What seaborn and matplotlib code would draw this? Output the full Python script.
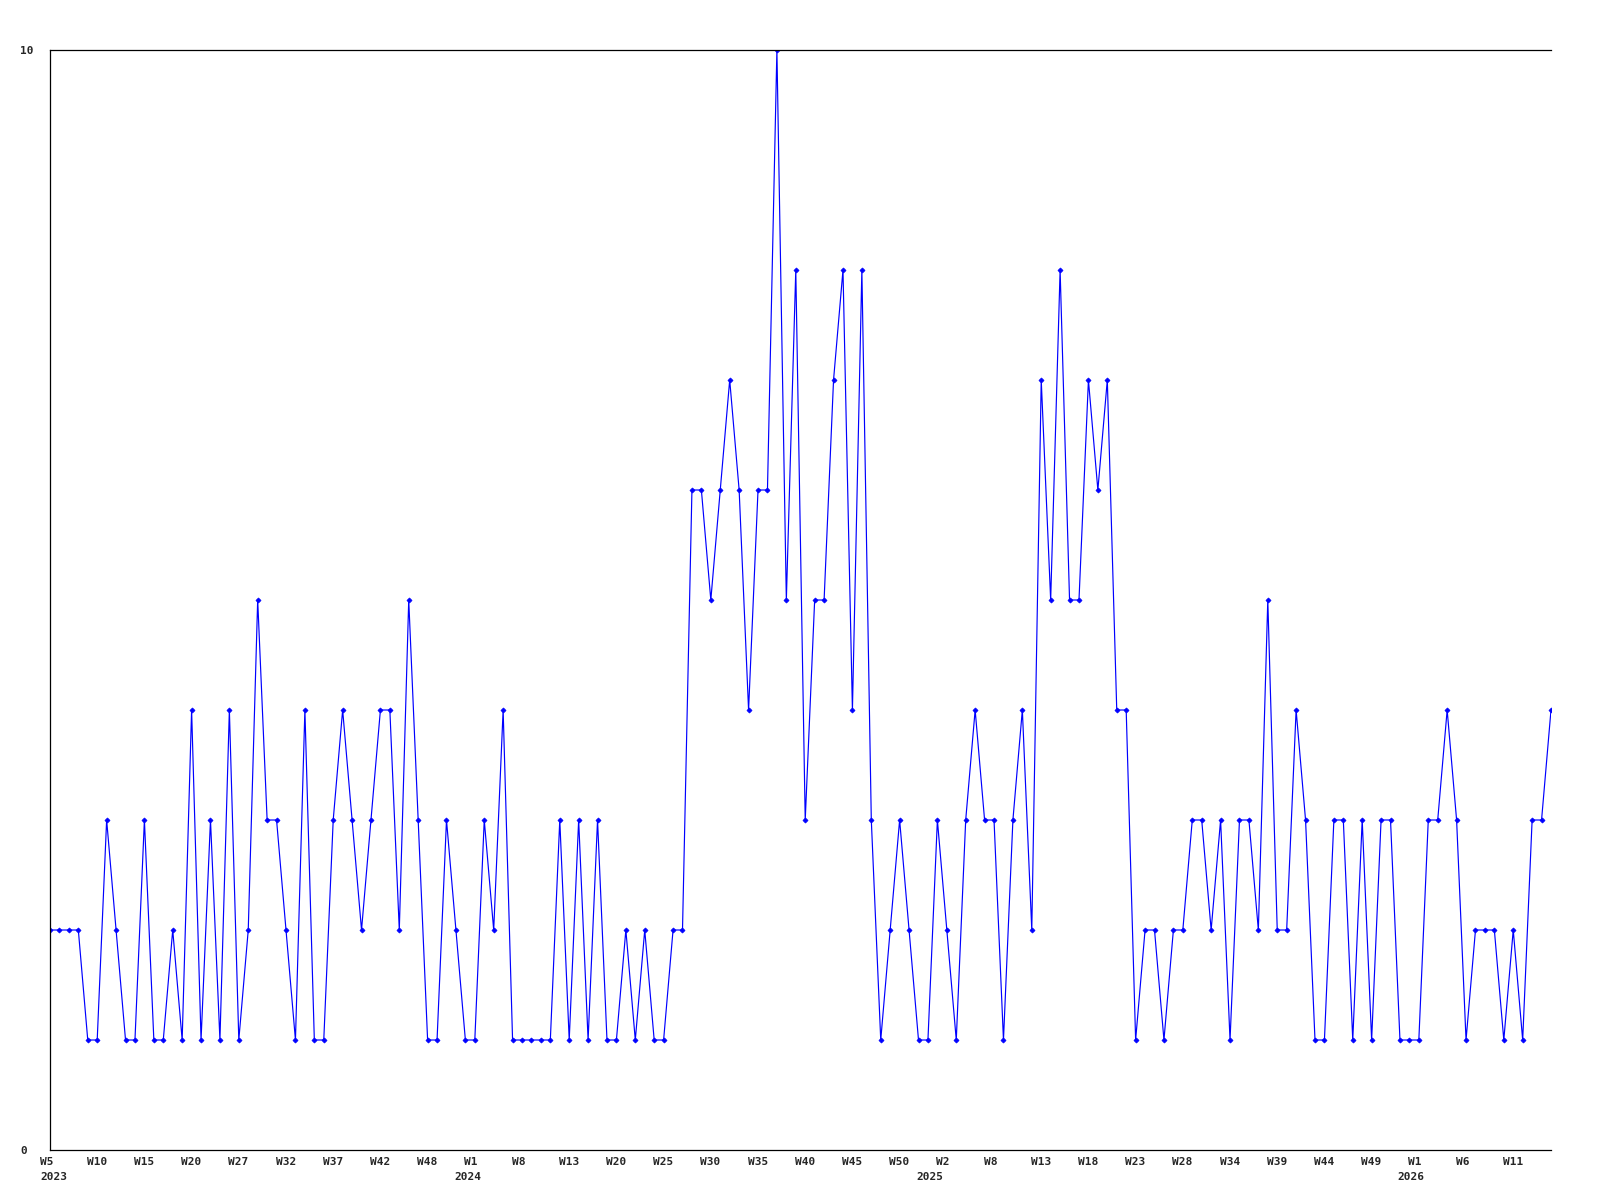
import matplotlib
matplotlib.use("Agg")
import matplotlib.pyplot as plt
import matplotlib.transforms as mtrans
import seaborn as sns
import pandas as pd

# ---- data ----
values = [
    2, 2, 2, 2, 1, 1, 3, 2, 1, 1, 3, 1, 1, 2, 1, 4, 1, 3, 1, 4, 1, 2, 5, 3, 3, 2, 1, 4, 1, 1, 3,
    4, 3, 2, 3, 4, 4, 2, 5, 3, 1, 1, 3, 2, 1, 1, 3, 2, 4, 1, 1, 1, 1, 1, 3, 1, 3, 1, 3, 1, 1, 2,
    1, 2, 1, 1, 2, 2, 6, 6, 5, 6, 7, 6, 4, 6, 6, 10, 5, 8, 3, 5, 5, 7, 8, 4, 8, 3, 1, 2, 3, 2, 1,
    1, 3, 2, 1, 3, 4, 3, 3, 1, 3, 4, 2, 7, 5, 8, 5, 5, 7, 6, 7, 4, 4, 1, 2, 2, 1, 2, 2, 3, 3,
    2, 3, 1, 3, 3, 2, 5, 2, 2, 4, 3, 1, 1, 3, 3, 1, 3, 1, 3, 3, 1, 1, 1, 3, 3, 4, 3, 1, 2, 2, 2, 1, 2, 1, 3, 3, 4,
]
week_labels = ["W5", "W10", "W15", "W20", "W27", "W32", "W37", "W42", "W48", "W1", "W8",
               "W13", "W20", "W25", "W30", "W35", "W40", "W45", "W50", "W2", "W8", "W13",
               "W18", "W23", "W28", "W34", "W39", "W44", "W49", "W1", "W6", "W11"]
years = ["2023", "2024", "2025", "2026"]
year_index = [0, 45, 95, 145]
y_ticks = [0, 10]

df = pd.DataFrame({"i": range(len(values)), "v": values})

sns.set_style("white")
plt.rcParams["font.family"] = ["DejaVu Sans Mono"]

fig = plt.figure(figsize=(16, 12), dpi=100)
W, H = 1600, 1200
ax = fig.add_axes([50 / W, 1 - 1150 / H, 1501 / W, 1100 / H])

sns.lineplot(data=df, x="i", y="v", ax=ax, color="#0000ff", linewidth=0.85,
             marker="D", markersize=2.6, markeredgewidth=0.5, markeredgecolor="#0000ff")

ax.set_xlim(0, len(values) - 1)
ax.set_ylim(0, 10)
ax.set_xlabel("")
ax.set_ylabel("")

for s in ["left", "top", "bottom"]:
    ax.spines[s].set_visible(True)
    ax.spines[s].set_color("black")
    ax.spines[s].set_linewidth(0.9)
ax.spines["right"].set_visible(False)

tick_pos = list(range(0, len(values), 5))[:len(week_labels)]
ax.set_xticks(tick_pos)
ax.set_xticklabels(week_labels, fontsize=8, fontweight="bold")
ax.tick_params(axis="x", length=0, pad=5)
off = mtrans.ScaledTranslation(-10.5 / 100, 0, fig.dpi_scale_trans)
for lab in ax.get_xticklabels():
    lab.set_horizontalalignment("left")
    lab.set_transform(lab.get_transform() + off)

ax.set_yticks(y_ticks)
ax.set_yticklabels([str(t) for t in y_ticks], fontsize=8, fontweight="bold")
ax.tick_params(axis="y", length=0, pad=21.6)
for lab in ax.get_yticklabels():
    lab.set_horizontalalignment("left")

year_offsets_px = [-10, -20, -30, -21]
blend = mtrans.blended_transform_factory(ax.transData, ax.transAxes)
for yr, xi, dx in zip(years, year_index, year_offsets_px):
    t = blend + mtrans.ScaledTranslation(dx / 100, -22 / 100, fig.dpi_scale_trans)
    ax.text(xi, 0, yr, transform=t, ha="left", va="top", fontsize=8,
            fontweight="bold", clip_on=False)

fig.savefig("out.png", dpi=100, facecolor="white")
